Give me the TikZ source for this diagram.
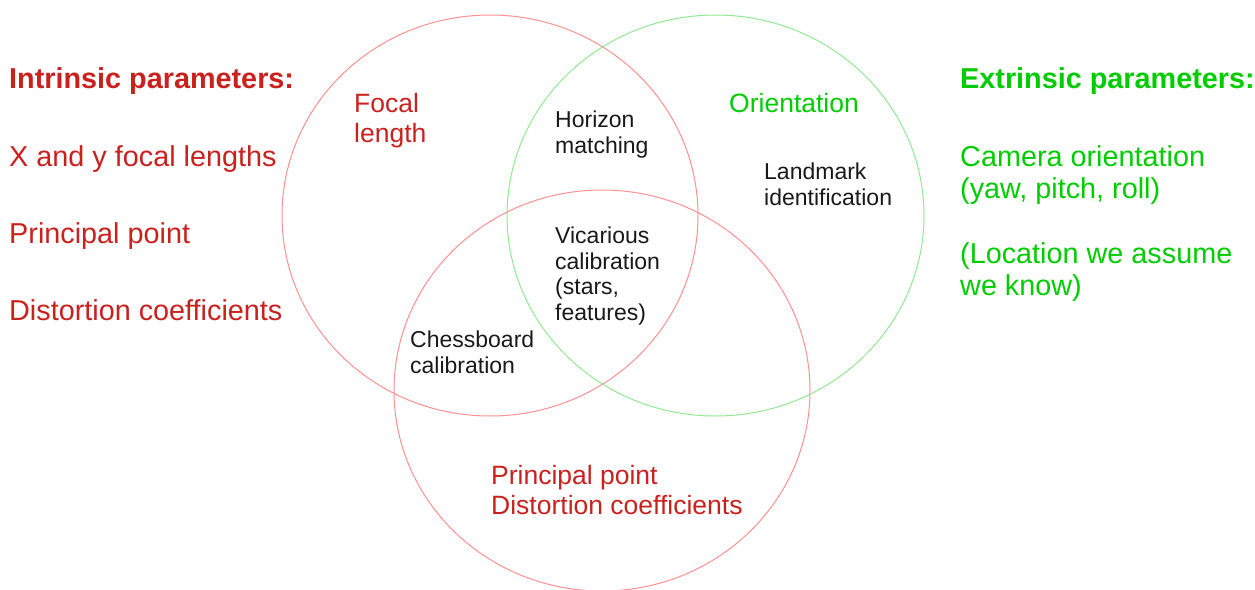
\documentclass[tikz,border=0pt]{standalone}
\usepackage{fontspec}
\setmainfont{Liberation Sans}
\definecolor{txtred}{HTML}{C9211E}
\definecolor{txtgreen}{HTML}{00CC00}
\definecolor{ringred}{HTML}{FF9090}
\definecolor{ringgreen}{HTML}{90E890}

\begin{document}
\begin{tikzpicture}[x=1pt, y=-1pt,
    every node/.style={inner sep=0pt, anchor=base west, align=left},
    outer/.style={font=\fontsize{28.8}{32}\selectfont},
    inlabel/.style={font=\fontsize{26.5}{29.5}\selectfont},
    region/.style={font=\fontsize{23}{25.5}\selectfont, text=black!90},
    ring/.style={line width=1pt}]
    \useasboundingbox (0,0) rectangle (1255,589);
    % the three sets
    \draw[ring, ringred] (490,215.5) ellipse (208 and 200.5);
    \draw[ring, ringgreen] (715.5,215.5) ellipse (208.5 and 200.5);
    \draw[ring, ringred] (602,390.5) ellipse (208 and 200.5);
    % intrinsic side
    \node[outer, text=txtred, font=\fontsize{28.8}{32}\selectfont\bfseries] (intr) at (9,88) {Intrinsic parameters:};
    \node[outer, text=txtred] (xy) at (9,166) {X and y focal lengths};
    \node[outer, text=txtred] (pp) at (9,243) {Principal point};
    \node[outer, text=txtred] (dc) at (9,320) {Distortion coefficients};
    % extrinsic side (multi-line nodes sit on their last baseline)
    \node[outer, text=txtgreen, font=\fontsize{28.8}{32}\selectfont\bfseries] (extr) at (960,88) {Extrinsic parameters:};
    \node[outer, text=txtgreen] (cam) at (960,198) {Camera orientation\\(yaw, pitch, roll)};
    \node[outer, text=txtgreen] (loc) at (960,295) {(Location we assume\\we know)};
    % set labels
    \node[inlabel, text=txtred] (focal) at (354,142) {Focal\\length};
    \node[inlabel, text=txtgreen] (orient) at (729,112) {Orientation};
    \node[inlabel, text=txtred] (ppdc) at (491,514) {Principal point\\Distortion coefficients};
    % overlaps
    \node[region] (hor) at (555,153) {Horizon\\matching};
    \node[region] (land) at (764,205) {Landmark\\identification};
    \node[region] (vic) at (555,320) {Vicarious\\calibration\\(stars,\\features)};
    \node[region] (chess) at (410,373) {Chessboard\\calibration};
\end{tikzpicture}
\end{document}
